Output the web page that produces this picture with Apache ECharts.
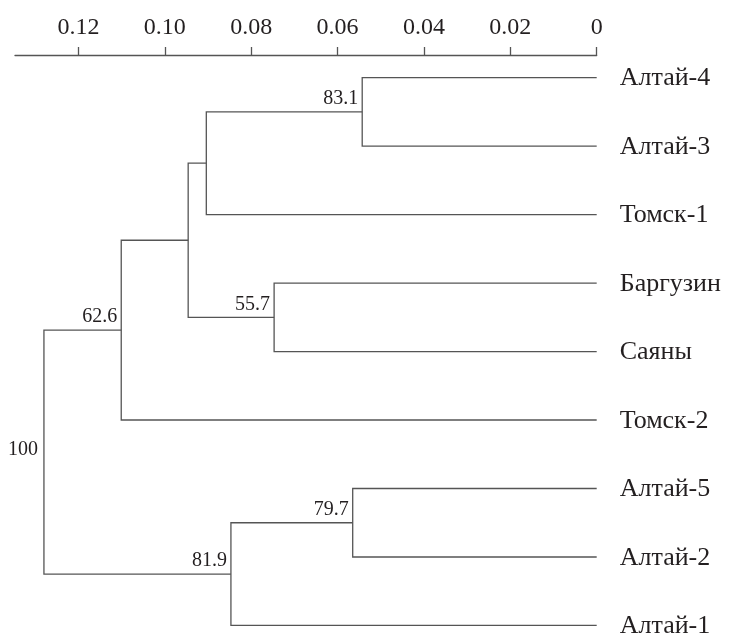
<!DOCTYPE html>
<html><head><meta charset="utf-8">
<script src="https://cdn.jsdelivr.net/npm/echarts@6/dist/echarts.min.js"></script>
<style>html,body{margin:0;padding:0;background:#fff}#c{width:730px;height:633px}</style>
</head><body><div id="c"></div>
<script>
// Leaves, top to bottom
const leaves = ['Алтай-4','Алтай-3','Томск-1','Баргузин','Саяны','Томск-2','Алтай-5','Алтай-2','Алтай-1'];
// Merges: node index = leaves.length + merge index
const mergeLeft    = [0, 9, 3, 10, 12, 6, 14, 13];
const mergeRight   = [1, 2, 4, 11, 5, 7, 8, 15];
const mergeHeight  = [0.0543, 0.0904, 0.0747, 0.0946, 0.1101, 0.0565, 0.0847, 0.1280];
const mergeSupport = ['83.1', '', '55.7', '', '62.6', '79.7', '81.9', '100'];
const tickValues = [0, 0.02, 0.04, 0.06, 0.08, 0.10, 0.12];

const nL = leaves.length;
const nodeX = leaves.map(() => 0).concat(mergeHeight);
const nodeY = leaves.map((_, i) => i);
mergeLeft.forEach((a, i) => { nodeY[nL + i] = (nodeY[a] + nodeY[mergeRight[i]]) / 2; });

const LINE = '#555';
const TXT = '#231f20';
const FONT = '"Liberation Serif", "DejaVu Serif", serif';

const chart = echarts.init(document.getElementById('c'), null, {renderer: 'canvas'});
chart.setOption({
  backgroundColor: '#fff',
  animation: false,
  grid: {left: 15, right: 133.3, top: 55, bottom: 0, containLabel: false},
  xAxis: {
    type: 'value', position: 'top', inverse: true, min: 0, max: 0.1347,
    splitLine: {show: false},
    axisLine: {show: true, onZero: false, lineStyle: {color: LINE, width: 1.3}},
    axisTick: {show: true, length: 8, customValues: tickValues, lineStyle: {color: LINE, width: 1.3}},
    axisLabel: {
      customValues: tickValues, margin: 15, color: TXT, fontFamily: FONT, fontSize: 24,
      formatter: v => v === 0 ? '0' : v.toFixed(2)
    }
  },
  yAxis: {type: 'value', inverse: true, min: -0.33, max: 8.11, show: false},
  series: [
    {
      type: 'custom',
      data: mergeHeight.map((h, i) => [h, nodeY[nL + i]]),
      encode: {x: 0, y: 1},
      renderItem: (params, api) => {
        const i = params.dataIndex, n = nL + i;
        const a = mergeLeft[i], b = mergeRight[i];
        const pA0 = api.coord([nodeX[a], nodeY[a]]);
        const pA1 = api.coord([nodeX[n], nodeY[a]]);
        const pB1 = api.coord([nodeX[n], nodeY[b]]);
        const pB0 = api.coord([nodeX[b], nodeY[b]]);
        const pN = api.coord([nodeX[n], nodeY[n]]);
        const children = [{
          type: 'polyline',
          shape: {points: [pA0, pA1, pB1, pB0]},
          style: {stroke: LINE, lineWidth: 1.3, fill: null}
        }];
        if (mergeSupport[i]) {
          const isRoot = i === mergeHeight.length - 1;
          children.push({
            type: 'text',
            x: isRoot ? pN[0] - 6 : pN[0] - 4,
            y: isRoot ? pN[1] - 2 : pN[1] - 3,
            style: {
              text: mergeSupport[i], fill: TXT, font: '20px ' + FONT,
              align: 'right', verticalAlign: isRoot ? 'middle' : 'bottom'
            }
          });
        }
        return {type: 'group', children};
      }
    },
    {
      type: 'custom',
      data: leaves.map((_, i) => [0, i]),
      encode: {x: 0, y: 1},
      renderItem: (params, api) => {
        const i = params.dataIndex;
        const p = api.coord([0, nodeY[i]]);
        return {
          type: 'text', x: p[0] + 23, y: p[1] + 1,
          style: {text: leaves[i], fill: TXT, font: '26px ' + FONT, align: 'left', verticalAlign: 'middle'}
        };
      }
    }
  ]
});
</script>
</body></html>
